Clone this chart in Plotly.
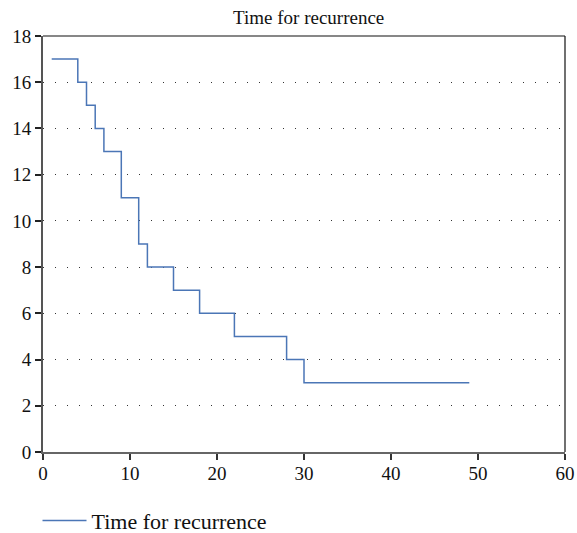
import plotly.graph_objects as go

# Data (step function)
time_months = [1, 4, 5, 6, 7, 9, 11, 12, 15, 18, 22, 28, 30, 49]
patients = [17, 16, 15, 14, 13, 11, 9, 8, 7, 6, 5, 4, 3, 3]
series_name = "Time for recurrence"
chart_title = "Time for recurrence"
x_ticks = [0, 10, 20, 30, 40, 50, 60]
y_ticks = [0, 2, 4, 6, 8, 10, 12, 14, 16, 18]

FONT = "Liberation Serif, DejaVu Serif, serif"

fig = go.Figure()
fig.add_trace(go.Scatter(
    x=time_months, y=patients, mode="lines", line_shape="hv",
    name=series_name, line=dict(color="#4b76b6", width=1.5),
))

fig.update_layout(
    width=577, height=533,
    margin=dict(l=43, r=12, t=36, b=81),
    paper_bgcolor="white", plot_bgcolor="white",
    font=dict(family=FONT, size=19, color="#111"),
    title=dict(text=chart_title, x=0.535, xanchor="center",
               y=0.968, yanchor="middle", font=dict(family=FONT, size=19, color="#111")),
    showlegend=True,
    legend=dict(orientation="h", xref="container", yref="container",
                x=0.065, xanchor="left", y=0.023, yanchor="middle",
                itemwidth=44,
                font=dict(family=FONT, size=22, color="#111")),
    xaxis=dict(range=[0, 60], tickvals=x_ticks, showgrid=False, zeroline=False,
               showline=True, linecolor="#666", linewidth=1.5, automargin=False,
               ticks="outside", ticklen=6, tickcolor="#333", tickwidth=1.5,
               ticklabelstandoff=-3,
               tickfont=dict(family=FONT, size=19, color="#111")),
    yaxis=dict(range=[0, 18], tickvals=y_ticks, showgrid=True, gridcolor="#333",
               gridwidth=1, griddash="1px,11px", zeroline=False,
               showline=True, linecolor="#555", linewidth=2, automargin=False,
               ticks="outside", ticklen=6, tickcolor="#222", tickwidth=1.5,
               tickfont=dict(family=FONT, size=19, color="#111")),
)

# top and right frame lines (black, thin)
fig.add_shape(type="line", xref="x domain", yref="y domain", x0=0, x1=1, y0=1, y1=1,
              line=dict(color="#111", width=1.2))
fig.add_shape(type="line", xref="x domain", yref="y domain", x0=1, x1=1, y0=0, y1=1,
              line=dict(color="#111", width=1.2))

fig.write_html(
    "out.html",
    config={"displayModeBar": False},
    post_script="document.body.style.margin='0';document.body.style.overflow='hidden';",
)
